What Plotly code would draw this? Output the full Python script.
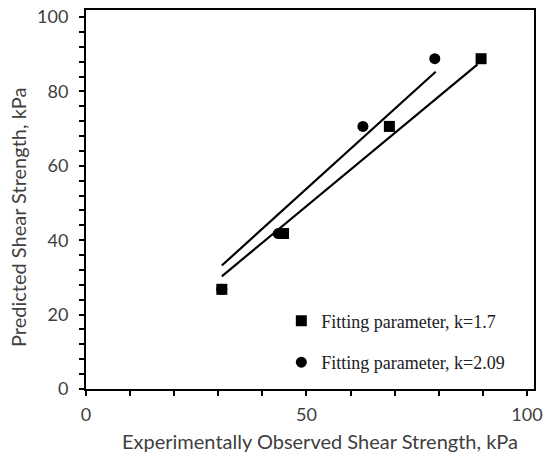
import plotly.graph_objects as go

# Data
sq_x = [30.8, 44.8, 68.8, 89.6]
sq_y = [26.8, 41.8, 70.6, 88.8]
ci_x = [30.8, 43.6, 62.8, 79.1]
ci_y = [26.8, 41.8, 70.6, 88.8]

# Trend lines (end points)
fit_sq_x = [30.8, 88.8]
fit_sq_y = [30.3, 87.3]
fit_ci_x = [30.8, 79.3]
fit_ci_y = [33.2, 85.3]

names = ["Fitting parameter, k=1.7", "Fitting parameter, k=2.09"]
x_title = "Experimentally Observed Shear Strength, kPa"
y_title = "Predicted Shear Strength, kPa"

fig = go.Figure()
fig.add_trace(go.Scatter(x=fit_sq_x, y=fit_sq_y, mode="lines",
                         line=dict(color="black", width=2.2), showlegend=False, hoverinfo="skip"))
fig.add_trace(go.Scatter(x=fit_ci_x, y=fit_ci_y, mode="lines",
                         line=dict(color="black", width=2.2), showlegend=False, hoverinfo="skip"))
fig.add_trace(go.Scatter(x=ci_x, y=ci_y, mode="markers", name=names[1], legendgroup="b",
                         legendrank=2,
                         marker=dict(symbol="circle", size=11, color="black")))
fig.add_trace(go.Scatter(x=sq_x, y=sq_y, mode="markers", name=names[0], legendgroup="a",
                         legendrank=1,
                         marker=dict(symbol="square", size=11, color="black")))

tick_font = dict(family="Lato, Noto Sans, sans-serif", size=18, color="#404040")
title_font = dict(family="Lato, Noto Sans, sans-serif", size=20, color="#404040")

fig.update_layout(
    width=543, height=459,
    margin=dict(l=86, r=9, t=10, b=70, autoexpand=False),
    paper_bgcolor="white", plot_bgcolor="white",
    showlegend=True,
    legend=dict(x=0.436, y=0.228, xanchor="left", yanchor="top",
                bgcolor="rgba(0,0,0,0)", tracegroupgap=15,
                font=dict(family="Liberation Serif, Times New Roman, serif", size=18, color="#202020"),
                itemwidth=30),
    xaxis=dict(range=[0, 101.6], tick0=0, dtick=50, showgrid=False, zeroline=False,
               showline=True, linecolor="black", linewidth=2, mirror=True, automargin=False,
               ticks="outside", ticklen=5, tickwidth=2, tickcolor="black", ticklabelstandoff=3,
               minor=dict(dtick=10, tick0=0, ticks="outside", ticklen=5, tickwidth=2, tickcolor="black"),
               tickfont=tick_font),
    yaxis=dict(range=[0, 101.9], tick0=0, dtick=20, showgrid=False, zeroline=False,
               showline=True, linecolor="black", linewidth=2, mirror=True, automargin=False,
               ticks="outside", ticklen=5, tickwidth=2, tickcolor="black", ticklabelstandoff=7,
               minor=dict(dtick=4, tick0=0, ticks="outside", ticklen=5, tickwidth=2, tickcolor="black"),
               tickfont=tick_font),
    annotations=[
        dict(text=x_title, xref="paper", yref="paper", x=(320 - 86) / 448, y=(389 - 441) / 379,
             xanchor="center", yanchor="middle", showarrow=False, font=title_font),
        dict(text=y_title, xref="paper", yref="paper", x=(18 - 86) / 448, y=(389 - 218) / 379,
             xanchor="center", yanchor="middle", showarrow=False, textangle=-90, font=title_font),
    ],
)

fig.write_html("out.html")
